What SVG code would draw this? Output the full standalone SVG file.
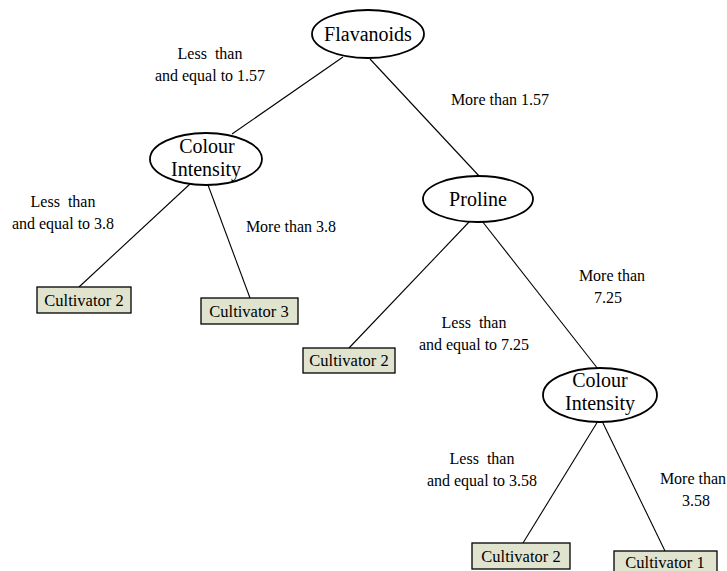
<svg xmlns="http://www.w3.org/2000/svg" width="727" height="571" viewBox="0 0 727 571">
<style>
text{font-family:'Liberation Serif','Times New Roman',Times,'DejaVu Serif',serif;text-anchor:middle;fill:#000}
.node ellipse{fill:#fff;stroke:#000;stroke-width:1.8}
.leaf rect{fill:#e0e4cf;stroke:#000;stroke-width:1.3}
.nt{font-size:20px}
.lt{font-size:16.5px}
.lb{font-size:16px;white-space:pre}
#edges line{stroke:#000;stroke-width:1.1}
</style>
<rect width="727" height="571" fill="#fff"/>
<g id="edges">
<line x1="343" y1="57" x2="232" y2="134"/>
<line x1="370" y1="59" x2="480" y2="177"/>
<line x1="190" y1="184" x2="79" y2="287"/>
<line x1="208" y1="185" x2="250" y2="298"/>
<line x1="470" y1="221" x2="349" y2="348"/>
<line x1="482" y1="221" x2="598" y2="369"/>
<line x1="598" y1="421" x2="523" y2="543"/>
<line x1="602" y1="421" x2="665" y2="551"/>
</g>
<g id="n-flavanoids" class="node"><ellipse cx="368" cy="34" rx="56" ry="24"/><text class="nt" x="368" y="41" font-family="Liberation Serif, serif">Flavanoids</text></g>
<g id="n-ci-left" class="node"><ellipse cx="206" cy="159" rx="56" ry="26"/><text class="nt" x="207" y="153">Colour</text><text class="nt" x="206" y="176">Intensity</text></g>
<g id="n-proline" class="node"><ellipse cx="478" cy="199" rx="55" ry="23"/><text class="nt" x="478" y="206">Proline</text></g>
<g id="n-ci-right" class="node"><ellipse cx="600" cy="395" rx="57" ry="27"/><text class="nt" x="600" y="387">Colour</text><text class="nt" x="600" y="410">Intensity</text></g>
<g id="l-c2a" class="leaf"><rect x="37" y="287" width="94" height="26"/><text class="lt" x="84" y="306">Cultivator 2</text></g>
<g id="l-c3" class="leaf"><rect x="201" y="298" width="97" height="26"/><text class="lt" x="249" y="317">Cultivator 3</text></g>
<g id="l-c2b" class="leaf"><rect x="303" y="348" width="92" height="25"/><text class="lt" x="349" y="366">Cultivator 2</text></g>
<g id="l-c2c" class="leaf"><rect x="472" y="543" width="98" height="26"/><text class="lt" x="521" y="562">Cultivator 2</text></g>
<g id="l-c1" class="leaf"><rect x="614" y="551" width="103" height="26"/><text class="lt" x="665" y="568">Cultivator 1</text></g>
<g id="labels">
<text class="lb" x="210" y="59">Less  than</text>
<text class="lb" x="210" y="81">and equal to 1.57</text>
<text class="lb" x="500" y="105">More than 1.57</text>
<text class="lb" x="63" y="207">Less  than</text>
<text class="lb" x="63" y="229">and equal to 3.8</text>
<text class="lb" x="291" y="232">More than 3.8</text>
<text class="lb" x="612" y="281">More than</text>
<text class="lb" x="608" y="303">7.25</text>
<text class="lb" x="474" y="328">Less  than</text>
<text class="lb" x="474" y="350">and equal to 7.25</text>
<text class="lb" x="482" y="464">Less  than</text>
<text class="lb" x="482" y="486">and equal to 3.58</text>
<text class="lb" x="693" y="484">More than</text>
<text class="lb" x="696" y="506">3.58</text>
</g>
</svg>
